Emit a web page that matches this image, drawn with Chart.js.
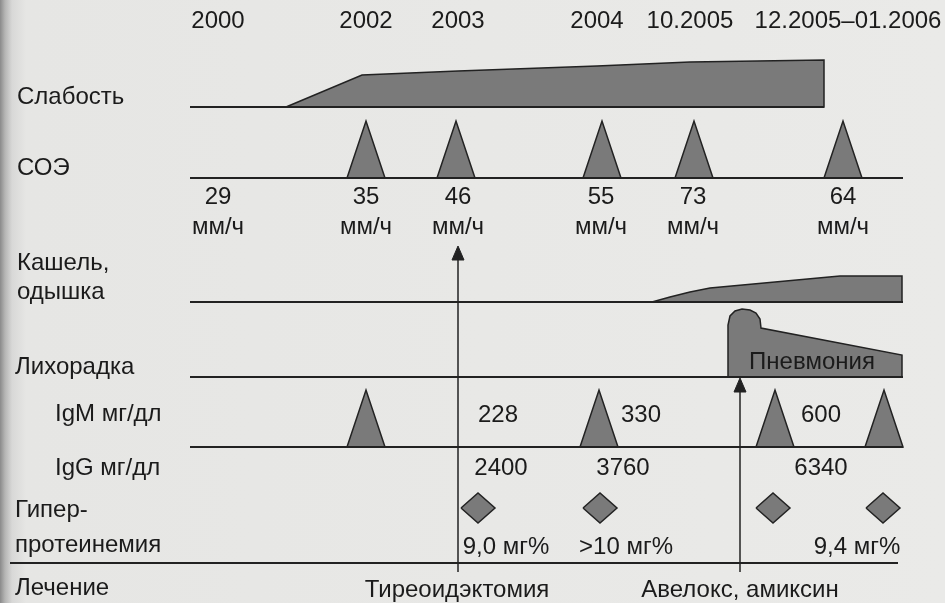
<!DOCTYPE html>
<html>
<head>
<meta charset="utf-8">
<script src="https://cdn.jsdelivr.net/npm/chart.js@4.4.1/dist/chart.umd.min.js"></script>
<style>
  html, body { margin: 0; padding: 0; }
  body {
    width: 945px; height: 603px; overflow: hidden;
    background: linear-gradient(to right, #8a8a8a 0px, #b5b5b4 5px, #d8d8d7 12px, #e6e6e4 26px, #eaeae8 100%);
  }
  .chart-box { position: relative; width: 945px; height: 603px; }
</style>
</head>
<body>
<div class="chart-box"><canvas id="timeline"></canvas></div>
<script>
// timeline positions (x units) and column headers
const periods = ['2000', '2002', '2003', '2004', '10.2005', '12.2005–01.2006'];
const periodPos = [218, 366, 458, 597, 690, 848];

// row baselines (y units, top = 0)
const rowNames = ['Слабость', 'СОЭ', 'Кашель,\nодышка', 'Лихорадка', 'IgM мг/дл', 'IgG мг/дл', 'Гипер-\nпротеинемия', 'Лечение'];
const baseWeak = 107, baseEsr = 178, baseCough = 302, baseFever = 377, baseIgm = 447, baseBottom = 563;

// Слабость: intensity above baseline
const weakPos = [286, 362, 458, 597, 690, 824];
const weakLevel = [0, 32, 36, 41, 45, 47];

// СОЭ
const esrPos = [218, 366, 458, 601, 693, 843];
const esrValues = [29, 35, 46, 55, 73, 64];
const esrPeakPos = [366, 456, 602, 694, 843];

// Кашель, одышка
const coughPos = [652, 670, 690, 710, 840, 902];
const coughLevel = [0, 5, 10, 14, 26, 26];

// Лихорадка (пневмония)
const feverPos = [728, 728, 730, 735, 742, 750, 756, 760, 761, 902];
const feverLevel = [0, 52, 61, 66, 68, 67, 64, 58, 49, 22];

// IgM / IgG
const igmPeakPos = [366, 599, 775, 884];
const igmValues = ['228', '330', '600'];
const igmPos = [498, 641, 821];
const iggValues = ['2400', '3760', '6340'];
const iggPos = [501, 623, 821];

// Гиперпротеинемия
const hyperPos = [478, 600, 773, 883];
const hyperValues = ['9,0 мг%', '>10 мг%', '9,4 мг%'];
const hyperTextPos = [506, 626, 857];

// Лечение
const treatments = ['Тиреоидэктомия', 'Авелокс, амиксин'];
const treatArrowPos = [458, 740];
const treatArrowTip = [246, 378];
const treatTextPos = [457, 740];

const FILL = '#7a7a7a';
const INK = '#222222';

function area(xs, levels, base) {
    const pts = xs.map((x, i) => ({ x: x, y: base - levels[i] }));
    pts.push({ x: xs[xs.length - 1], y: base });
    pts.push({ x: xs[0], y: base });
    return pts;
}
function peak(cx, base) {
    return [{ x: cx - 19, y: base }, { x: cx, y: base - 57 }, { x: cx + 19, y: base }, { x: cx - 19, y: base }];
}
function diamond(cx, cy) {
    return [{ x: cx - 17, y: cy }, { x: cx, y: cy - 15 }, { x: cx + 17, y: cy }, { x: cx, y: cy + 15 }, { x: cx - 17, y: cy }];
}
function shape(data) {
    return { data: data, showLine: true, fill: 'shape', backgroundColor: FILL, borderColor: INK, borderWidth: 1.5, pointRadius: 0, tension: 0 };
}
function rule(x1, y1, x2, y2, w) {
    return { data: [{ x: x1, y: y1 }, { x: x2, y: y2 }], showLine: true, fill: false, borderColor: INK, borderWidth: w || 2, pointRadius: 0 };
}

const datasets = [];
datasets.push(rule(190, baseWeak, 824, baseWeak));
datasets.push(rule(190, baseEsr, 903, baseEsr));
datasets.push(rule(190, baseCough, 903, baseCough));
datasets.push(rule(190, baseFever, 903, baseFever));
datasets.push(rule(190, baseIgm, 903, baseIgm));
datasets.push(rule(10, baseBottom, 898, baseBottom));

datasets.push(shape(area(weakPos, weakLevel, baseWeak)));
datasets.push(shape(area(coughPos, coughLevel, baseCough)));
datasets.push(shape(area(feverPos, feverLevel, baseFever)));
esrPeakPos.forEach(x => datasets.push(shape(peak(x, baseEsr))));
igmPeakPos.forEach(x => datasets.push(shape(peak(x, baseIgm))));
hyperPos.forEach(x => datasets.push(shape(diamond(x, 508))));

// arrows from treatment up to the event
treatArrowPos.forEach((x, i) => {
    const tip = treatArrowTip[i];
    datasets.push(rule(x, 572, x, tip + 8, 1.5));
    datasets.push({
        data: [{ x: x - 6, y: tip + 14 }, { x: x, y: tip }, { x: x + 6, y: tip + 14 }, { x: x - 6, y: tip + 14 }],
        showLine: true, fill: 'shape', backgroundColor: INK, borderColor: INK, borderWidth: 1, pointRadius: 0
    });
});

const textPlugin = {
    id: 'textLabels',
    afterDatasetsDraw(chart) {
        const ctx = chart.ctx;
        const sx = chart.scales.x, sy = chart.scales.y;
        const put = (txt, x, y, align, size) => {
            ctx.font = (size || 24) + 'px "Liberation Sans", Arial, sans-serif';
            ctx.textAlign = align || 'center';
            ctx.textBaseline = 'middle';
            ctx.fillStyle = '#1b1b1b';
            ctx.fillText(txt, sx.getPixelForValue(x), sy.getPixelForValue(y));
        };
        ctx.save();
        periods.forEach((p, i) => put(p, periodPos[i], 21));

        const rowX = [17, 17, 17, 15, 55, 55, 15, 15];
        const rowY = [97, 168, 263, 367, 414, 468, 510, 588];
        const rowGap = [0, 0, 29, 0, 0, 0, 35, 0];
        rowNames.forEach((name, i) => {
            name.split('\n').forEach((line, j) => put(line, rowX[i], rowY[i] + j * rowGap[i], 'left'));
        });

        esrValues.forEach((v, i) => {
            put(String(v), esrPos[i], 197);
            put('мм/ч', esrPos[i], 227);
        });
        igmValues.forEach((v, i) => put(v, igmPos[i], 415));
        iggValues.forEach((v, i) => put(v, iggPos[i], 468));
        hyperValues.forEach((v, i) => put(v, hyperTextPos[i], 547));
        treatments.forEach((t, i) => put(t, treatTextPos[i], 590));
        put('Пневмония', 812, 362, 'center', 24);
        ctx.restore();
    }
};

new Chart(document.getElementById('timeline').getContext('2d'), {
    type: 'scatter',
    data: { datasets: datasets },
    options: {
        responsive: true,
        maintainAspectRatio: false,
        animation: false,
        layout: { padding: 0 },
        plugins: { legend: { display: false }, tooltip: { enabled: false } },
        scales: {
            x: { type: 'linear', min: 0, max: 945, display: false },
            y: { type: 'linear', min: 0, max: 603, reverse: true, display: false }
        }
    },
    plugins: [textPlugin]
});
</script>
</body>
</html>
